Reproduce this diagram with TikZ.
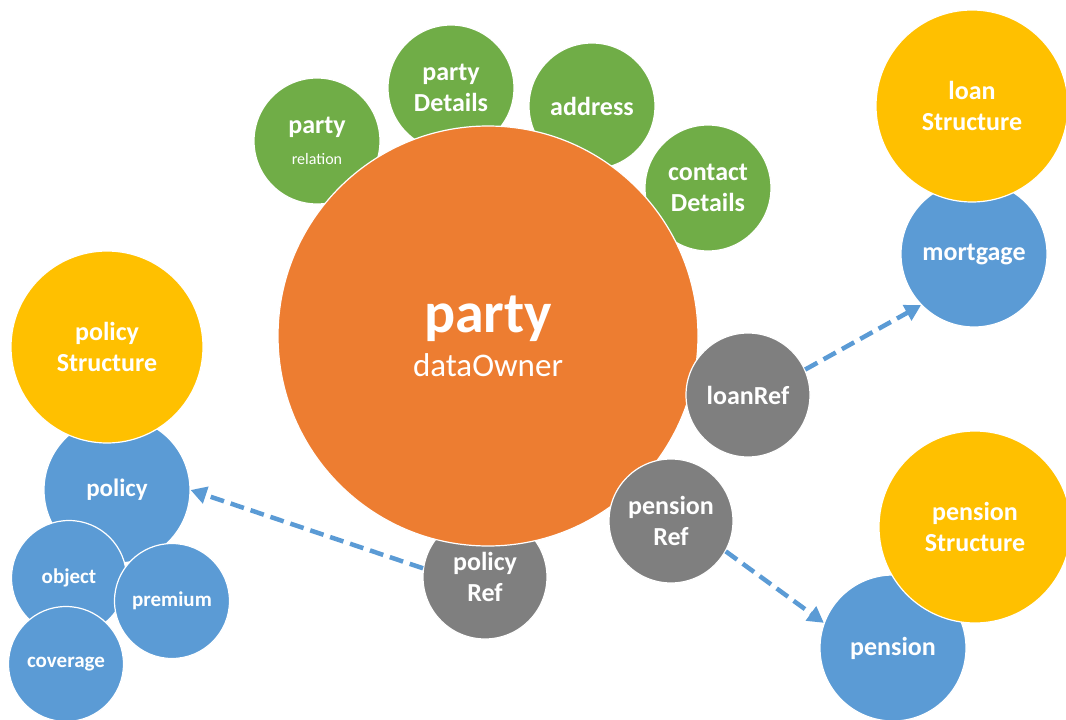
\documentclass[tikz,border=0pt]{standalone}
\usepackage{fontspec}
\setmainfont{Carlito}
\usepackage{tikz}
\usetikzlibrary{arrows.meta}
\definecolor{orng}{HTML}{ED7D31}
\definecolor{leaf}{HTML}{70AD47}
\definecolor{sky}{HTML}{5B9BD5}
\definecolor{gold}{HTML}{FFC000}
\definecolor{slate}{HTML}{7F7F7F}

\begin{document}
\begin{tikzpicture}[x=1pt, y=-1pt,
  bub/.style={circle, draw=white, line width=1.2pt, inner sep=0pt, text=white, align=center, font=\bfseries\fontsize{26}{31}\selectfont},
  attr/.style={bub, fill=leaf, minimum size=126pt},
  ref/.style={bub, fill=slate, minimum size=124pt},
  struct/.style={bub, fill=gold, minimum size=192pt},
  item/.style={bub, fill=sky, minimum size=146pt},
  part/.style={bub, fill=sky, minimum size=115pt, font=\bfseries\fontsize{21}{25}\selectfont},
  link/.style={draw=sky, line width=4.5pt, dash pattern=on 14pt off 7pt, -{Triangle[length=16pt,width=17pt]}}]
\useasboundingbox (0,0) rectangle (1066,720);
% satellites sitting behind the owner
\node[attr] (rel) at (317,141) {party\\\fontsize{16}{25}\selectfont\mdseries relation};
\node[attr] (det) at (451,88) {party\\Details};
\node[attr] (addr) at (592,106) {address};
\node[attr] (cont) at (708,188) {contact\\Details};
\node[ref] (polRef) at (485,577) {policy\\Ref};
\node[bub, fill=orng, minimum size=420pt] (party) at (488,336) {\fontsize{58}{58}\selectfont party\\[11pt]\fontsize{33}{40}\selectfont\mdseries dataOwner};
\node[ref] (loanRef) at (748,395) {loanRef};
\node[ref] (penRef) at (671,521) {pension\\Ref};
% policy cluster
\node[item, font=\bfseries\fontsize{25}{30}\selectfont] (policy) at (117,490) {policy};
\node[part] (object) at (69,578) {object};
\node[part] (coverage) at (66,664) {coverage};
\node[part] (premium) at (172,601) {premium};
\node[struct] (polStruct) at (107,347) {policy\\Structure};
% loan and pension
\node[item] (mortgage) at (974,254) {mortgage};
\node[struct] (loanStruct) at (972,106) {loan\\Structure};
\node[item] (pension) at (893,648) {pension};
\node[struct] (penStruct) at (975,527) {pension\\Structure};
\draw[link] (loanRef.24) -- (mortgage.224);
\draw[link] (penRef.-29) -- (pension.160);
\draw[link] (polRef.172) -- (policy.0);
\end{tikzpicture}
\end{document}
